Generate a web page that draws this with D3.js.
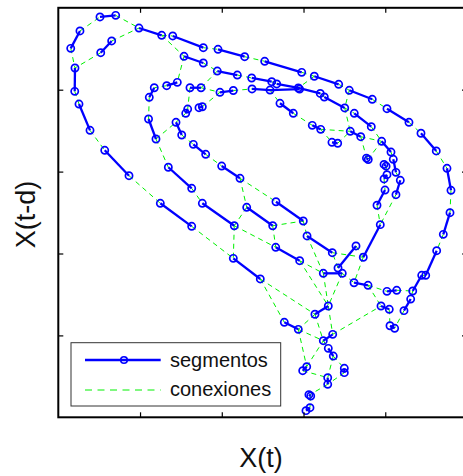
<!DOCTYPE html>
<html>
<head>
<meta charset="utf-8">
<script src="https://cdn.jsdelivr.net/npm/d3@7"></script>
<style>
  body { margin: 0; background: #fff; }
  svg { display: block; }
  text { font-family: "Liberation Sans", Arial, sans-serif; fill: #111; }
</style>
</head>
<body>
<svg id="chart" width="463" height="476"></svg>
<script>
// Axis ticks (no tick labels are shown)
const xTicks = [1, 2, 3, 4];
const yTicks = [1, 2, 3, 4];
const axisLabels = { x: "X(t)", y: "X(t-d)" };
const legendLabels = ["segmentos", "conexiones"];

// Reconstructed trajectory pieces: each entry is one solid segment [X(t), X(t-d)]
const segmentos = [
  [[0.510,4.888],[0.702,4.908]],
  [[0.987,4.753],[1.265,4.664]],
  [[1.400,4.656],[1.774,4.513]],
  [[1.954,4.493],[2.280,4.403]],
  [[2.525,4.347],[2.978,4.212]],
  [[3.132,4.164],[3.430,4.066]],
  [[3.560,3.993],[3.841,3.883]],
  [[4.021,3.768],[4.290,3.602]],
  [[4.437,3.468],[4.624,3.252]],
  [[4.755,3.040],[4.804,2.772]],
  [[4.792,2.498],[4.710,2.234]],
  [[4.629,2.034],[4.495,1.734]],
  [[4.446,1.734],[4.336,1.542]],
  [[4.311,1.444],[4.229,1.302]],
  [[4.058,1.118],[4.115,1.087]],
  [[0.265,4.717],[0.152,4.505]],
  [[0.204,4.265],[0.201,3.980]],
  [[0.253,3.825],[0.388,3.504]],
  [[0.568,3.260],[0.865,2.950]],
  [[1.248,2.613],[1.632,2.332]],
  [[2.141,1.941],[2.471,1.689]],
  [[0.653,4.595],[0.519,4.452]],
  [[1.538,4.408],[1.774,4.326]],
  [[1.945,4.228],[2.190,4.179]],
  [[2.366,4.143],[2.611,4.098]],
  [[2.672,4.070],[2.936,4.021],[3.205,3.954]],
  [[3.254,3.911],[3.504,3.777]],
  [[3.621,3.712],[3.829,3.548]],
  [[3.956,3.370],[4.070,3.239]],
  [[4.098,3.150],[4.131,2.991]],
  [[4.184,2.894],[4.131,2.718]],
  [[1.978,3.968],[2.141,3.990]],
  [[2.370,4.009],[2.590,3.996],[2.952,4.008]],
  [[2.712,3.834],[2.875,3.712]],
  [[3.107,3.565],[3.210,3.516]],
  [[3.348,3.358],[3.418,3.346]],
  [[3.572,3.492],[3.700,3.426]],
  [[3.770,3.165],[3.792,3.148]],
  [[3.985,3.087],[4.010,3.066]],
  [[4.021,2.962],[3.985,2.910]],
  [[3.997,2.775],[3.899,2.589]],
  [[3.939,2.352],[3.731,1.954]],
  [[3.642,2.092],[3.422,1.823]],
  [[3.242,1.758],[3.474,1.758]],
  [[3.618,1.643],[3.789,1.612]],
  [[4.021,1.538],[4.140,1.551]],
  [[3.948,1.359],[4.049,1.319]],
  [[3.043,2.214],[3.352,2.010]],
  [[2.663,2.632],[2.997,2.397]],
  [[1.346,3.053],[1.632,2.796]],
  [[1.999,3.068],[2.223,2.918]],
  [[1.762,2.613],[2.153,2.339]],
  [[2.305,2.564],[2.623,2.339]],
  [[2.660,2.076],[2.953,1.912]],
  [[1.456,4.090],[1.326,4.049]],
  [[1.174,4.024],[1.113,3.907]],
  [[1.611,4.024],[1.746,4.024]],
  [[1.583,3.764],[1.559,3.712]],
  [[1.762,3.792],[1.721,3.780]],
  [[1.104,3.642],[1.195,3.398]],
  [[1.440,3.602],[1.510,3.447]],
  [[1.652,3.333],[1.803,3.211]],
  [[3.303,1.359],[3.140,1.258]],
  [[2.765,1.160],[2.936,1.074]],
  [[3.242,0.935],[3.357,1.013]],
  [[3.303,0.842],[3.364,0.748]],
  [[3.499,0.598],[3.499,0.545]],
  [[3.039,0.618],[2.990,0.569]],
  [[3.296,0.484],[3.296,0.403]],
  [[3.066,0.276],[3.088,0.260]],
  [[3.079,0.117],[3.030,0.081]]
];

// Links between segment ends (dashed)
const conexiones = [
  [[0.702,4.908],[0.987,4.753]],
  [[1.265,4.664],[1.400,4.656]],
  [[1.774,4.513],[1.954,4.493]],
  [[2.280,4.403],[2.525,4.347]],
  [[2.978,4.212],[3.132,4.164]],
  [[3.430,4.066],[3.560,3.993]],
  [[3.841,3.883],[4.021,3.768]],
  [[4.290,3.602],[4.437,3.468]],
  [[4.624,3.252],[4.755,3.040]],
  [[4.804,2.772],[4.792,2.498]],
  [[4.710,2.234],[4.629,2.034]],
  [[4.495,1.734],[4.446,1.734]],
  [[4.336,1.542],[4.311,1.444]],
  [[4.229,1.302],[4.115,1.087]],
  [[0.265,4.717],[0.510,4.888]],
  [[0.152,4.505],[0.204,4.265]],
  [[0.201,3.980],[0.253,3.825]],
  [[0.388,3.504],[0.568,3.260]],
  [[0.865,2.950],[1.248,2.613]],
  [[1.632,2.332],[2.141,1.941]],
  [[2.471,1.689],[2.765,1.160]],
  [[2.471,1.689],[3.140,1.258]],
  [[2.936,1.074],[3.242,0.935]],
  [[3.357,1.013],[3.948,1.359]],
  [[3.242,0.935],[3.303,0.842]],
  [[3.364,0.748],[3.499,0.598]],
  [[3.364,0.748],[3.296,0.484]],
  [[3.499,0.545],[3.296,0.403]],
  [[3.296,0.403],[3.071,0.272]],
  [[3.085,0.264],[3.079,0.117]],
  [[2.936,1.074],[3.039,0.618]],
  [[2.990,0.569],[3.296,0.484]],
  [[3.039,0.618],[3.242,0.935]],
  [[3.140,1.258],[3.242,0.935]],
  [[3.303,1.359],[3.357,1.013]],
  [[3.140,1.258],[2.936,1.074]],
  [[0.653,4.595],[0.987,4.753]],
  [[0.519,4.452],[0.204,4.265]],
  [[1.265,4.664],[1.538,4.408]],
  [[1.774,4.326],[1.945,4.228]],
  [[2.190,4.179],[2.366,4.143]],
  [[2.611,4.098],[2.672,4.070]],
  [[3.205,3.954],[3.254,3.911]],
  [[3.504,3.777],[3.621,3.712]],
  [[3.829,3.548],[3.956,3.370]],
  [[4.070,3.239],[4.098,3.150]],
  [[4.131,2.991],[4.184,2.894]],
  [[4.131,2.718],[3.939,2.352]],
  [[3.899,2.589],[3.939,2.352]],
  [[3.985,2.910],[3.997,2.775]],
  [[4.009,3.068],[4.021,2.962]],
  [[1.538,4.408],[1.456,4.090]],
  [[1.326,4.049],[1.174,4.024]],
  [[1.113,3.907],[1.104,3.642]],
  [[1.195,3.398],[1.346,3.053]],
  [[1.632,2.796],[1.762,2.613]],
  [[1.945,4.228],[1.746,4.024]],
  [[1.746,4.024],[1.978,3.968]],
  [[2.141,3.990],[2.370,4.009]],
  [[1.611,4.024],[1.583,3.764]],
  [[1.762,3.792],[1.978,3.968]],
  [[1.559,3.712],[1.440,3.602]],
  [[1.510,3.447],[1.652,3.333]],
  [[1.195,3.398],[1.440,3.602]],
  [[1.803,3.211],[1.999,3.068]],
  [[2.223,2.918],[2.305,2.564]],
  [[2.223,2.918],[2.663,2.632]],
  [[2.590,3.996],[2.712,3.834]],
  [[2.875,3.712],[3.107,3.565]],
  [[3.210,3.516],[3.572,3.492]],
  [[3.700,3.426],[3.956,3.370]],
  [[3.418,3.346],[3.572,3.492]],
  [[3.210,3.516],[3.348,3.358]],
  [[3.700,3.426],[3.773,3.162]],
  [[3.956,3.370],[3.789,3.150]],
  [[3.504,3.777],[3.572,3.492]],
  [[3.560,3.993],[3.504,3.777]],
  [[3.132,4.164],[2.936,4.021]],
  [[2.997,2.397],[3.043,2.214]],
  [[2.623,2.339],[2.660,2.076]],
  [[3.352,2.010],[3.731,1.954]],
  [[3.422,1.823],[3.352,2.010]],
  [[3.642,2.092],[3.731,1.954]],
  [[3.731,1.954],[3.618,1.643]],
  [[3.474,1.758],[3.618,1.643]],
  [[3.789,1.612],[4.021,1.538]],
  [[4.140,1.551],[4.336,1.542]],
  [[3.789,1.612],[3.948,1.359]],
  [[4.049,1.319],[4.058,1.118]],
  [[2.953,1.912],[3.303,1.359]],
  [[3.242,1.758],[3.303,1.359]],
  [[3.474,1.758],[3.303,1.359]],
  [[2.153,2.339],[2.660,2.076]],
  [[2.153,2.339],[2.141,1.941]],
  [[2.305,2.564],[2.153,2.339]],
  [[2.623,2.339],[2.997,2.397]],
  [[2.953,1.912],[3.242,1.758]],
  [[3.043,2.214],[3.242,1.758]]
];

const svg = d3.select("#chart");
const plotLeft = 58.3, plotRight = 467, plotTop = 7.8, plotBottom = 417.3;
const x = d3.scaleLinear().domain([0, 5]).range([plotLeft, plotRight]);
const y = d3.scaleLinear().domain([0, 5]).range([plotBottom, plotTop]);
const path = d3.line().x(d => x(d[0])).y(d => y(d[1]));

// Dashed green links
svg.append("g")
  .selectAll("path")
  .data(conexiones)
  .join("path")
  .attr("d", path)
  .attr("fill", "none")
  .attr("stroke", "#00f000")
  .attr("stroke-width", 1)
  .attr("stroke-dasharray", "5,4");

// Solid blue segments
svg.append("g")
  .selectAll("path")
  .data(segmentos)
  .join("path")
  .attr("d", path)
  .attr("fill", "none")
  .attr("stroke", "#0000ff")
  .attr("stroke-width", 2.3);

// Circle markers on every segment point
svg.append("g")
  .selectAll("circle")
  .data(segmentos.flat())
  .join("circle")
  .attr("cx", d => x(d[0]))
  .attr("cy", d => y(d[1]))
  .attr("r", 3.6)
  .attr("fill", "none")
  .attr("stroke", "#0000ff")
  .attr("stroke-width", 1.7);

// Axes: inward ticks on all four sides, no tick labels
const tickLen = -5;
function styleAxis(g) {
  g.select(".domain").remove();
  g.selectAll(".tick line").attr("stroke", "#000").attr("stroke-width", 1.2);
}
svg.append("g").attr("transform", `translate(0,${plotBottom})`)
  .call(d3.axisBottom(x).tickValues(xTicks).tickSize(tickLen).tickFormat("")).call(styleAxis);
svg.append("g").attr("transform", `translate(0,${plotTop})`)
  .call(d3.axisTop(x).tickValues(xTicks).tickSize(tickLen).tickFormat("")).call(styleAxis);
svg.append("g").attr("transform", `translate(${plotLeft},0)`)
  .call(d3.axisLeft(y).tickValues(yTicks).tickSize(tickLen).tickFormat("")).call(styleAxis);
svg.append("g").attr("transform", `translate(${plotRight},0)`)
  .call(d3.axisRight(y).tickValues(yTicks).tickSize(tickLen).tickFormat("")).call(styleAxis);

svg.append("rect")
  .attr("x", plotLeft).attr("y", plotTop)
  .attr("width", plotRight - plotLeft).attr("height", plotBottom - plotTop)
  .attr("fill", "none").attr("stroke", "#000").attr("stroke-width", 2);

// Axis titles
svg.append("text")
  .attr("x", 261).attr("y", 466.5)
  .attr("text-anchor", "middle")
  .attr("font-size", 27)
  .text(axisLabels.x);
svg.append("text")
  .attr("transform", "translate(35,214.5) rotate(-90)")
  .attr("text-anchor", "middle")
  .attr("font-size", 27)
  .text(axisLabels.y);

// Legend
const lg = svg.append("g");
lg.append("rect")
  .attr("x", 71).attr("y", 342.7).attr("width", 209.7).attr("height", 63.3)
  .attr("fill", "#fff").attr("stroke", "#333").attr("stroke-width", 1);
lg.append("line")
  .attr("x1", 85).attr("x2", 160.7).attr("y1", 360).attr("y2", 360)
  .attr("stroke", "#0000ff").attr("stroke-width", 2.3);
lg.append("circle")
  .attr("cx", 124).attr("cy", 360).attr("r", 3.3)
  .attr("fill", "none").attr("stroke", "#0000ff").attr("stroke-width", 1.6);
lg.append("line")
  .attr("x1", 85).attr("x2", 160.7).attr("y1", 390).attr("y2", 390)
  .attr("stroke", "#00f000").attr("stroke-width", 1).attr("stroke-dasharray", "7,5.5");
lg.selectAll("text.lbl")
  .data(legendLabels)
  .join("text")
  .attr("class", "lbl")
  .attr("x", 170)
  .attr("y", (d, i) => 367.3 + i * 28.4)
  .attr("font-size", 20)
  .text(d => d);
</script>
</body>
</html>
